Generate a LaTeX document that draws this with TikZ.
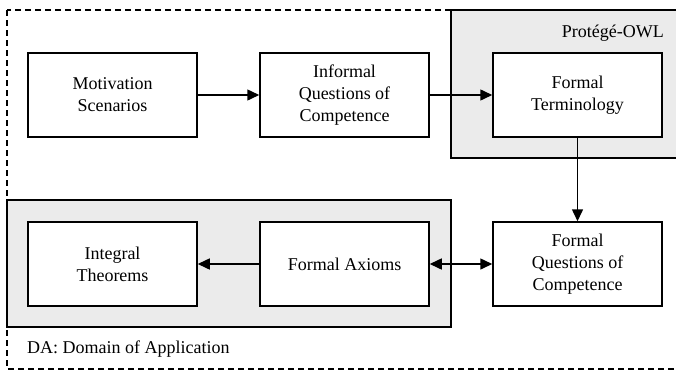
\documentclass[tikz,border=0pt]{standalone}
\usepackage{fontspec}
\setmainfont{Liberation Serif}
\newfontfamily\labelfont{Liberation Serif}
\usetikzlibrary{arrows.meta}
\definecolor{panelgray}{HTML}{EBEBEB}
\tikzset{
  stepbox/.style={draw, line width=1.5pt, fill=white, minimum width=169pt, minimum height=84pt,
    align=center, inner sep=0pt, font=\labelfont\fontsize{18}{22}\selectfont},
  panel/.style={draw, line width=1.5pt, fill=panelgray},
  flow/.style={line width=1.5pt, -{Triangle[length=12pt,width=11pt]}},
  twoway/.style={line width=1.5pt, {Triangle[length=12pt,width=11pt]}-{Triangle[length=12pt,width=11pt]}},
  frame/.style={line width=1.2pt, dash pattern=on 6pt off 4pt},
  caption/.style={font=\labelfont\fontsize{18}{22}\selectfont, inner sep=0pt}
}
\begin{document}
\begin{tikzpicture}[x=1pt, y=-1pt]
  \useasboundingbox (0,0) rectangle (676,370);
  \begin{scope}
    \clip (0,0) rectangle (676,370);
    % domain of application: dashed outer frame
    \draw[frame] (7,10) rectangle (690,369);
    % tool panels
    \draw[panel] (451,10) rectangle (690,158);
    \draw[panel] (7,200) rectangle (451,327);
  \end{scope}

  \node[caption, anchor=east] (owl) at (664,33) {Protégé-OWL};
  \node[caption, anchor=west] (da) at (27,349) {DA: Domain of Application};

  % steps
  \node[stepbox] (mot) at (112.5,95) {Motivation\\Scenarios};
  \node[stepbox] (iqc) at (344.5,95) {Informal\\Questions of\\Competence};
  \node[stepbox] (ft)  at (577.5,95) {Formal\\Terminology};
  \node[stepbox] (it)  at (112.5,264) {Integral\\Theorems};
  \node[stepbox] (fa)  at (344.5,264) {Formal Axioms};
  \node[stepbox] (fqc) at (577.5,264) {Formal\\Questions of\\Competence};

  % connectors
  \draw[flow] (mot) -- (iqc);
  \draw[flow] (iqc) -- (ft);
  \draw[flow] (ft) -- (fqc);
  \draw[flow] (fa) -- (it);
  \draw[twoway] (fa) -- (fqc);
\end{tikzpicture}
\end{document}
